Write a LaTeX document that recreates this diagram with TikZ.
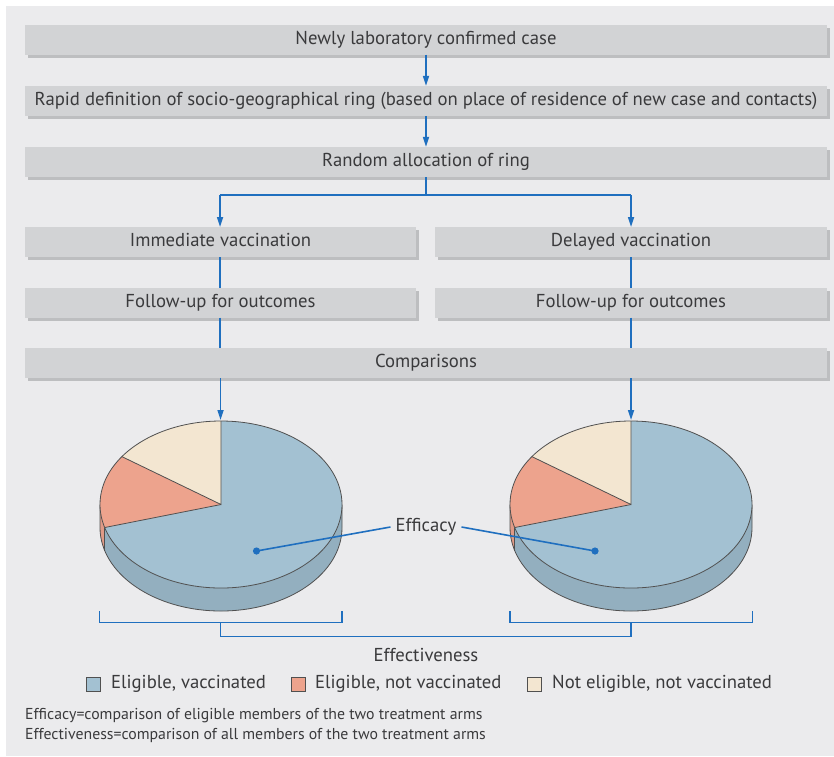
\documentclass[tikz,border=0pt]{standalone}
\usepackage{fontspec}
\setmainfont{PT Sans}
\usetikzlibrary{arrows.meta,calc,shadows}
\definecolor{panel}{HTML}{EBEBED}
\definecolor{boxc}{HTML}{D2D3D5}
\definecolor{shad}{HTML}{BDBEC0}
\definecolor{arr}{HTML}{1F6FBF}
\definecolor{txt}{HTML}{3A3A3C}
\definecolor{pblue}{HTML}{A3C1D2}
\definecolor{pblueside}{HTML}{93AFBF}
\definecolor{psalmon}{HTML}{EDA38D}
\definecolor{psalmonside}{HTML}{E09A86}
\definecolor{pbeige}{HTML}{F3E6D1}
\definecolor{pline}{HTML}{505050}
\tikzset{
  flowbox/.style={fill=boxc, inner sep=0pt, text=txt, font=\fontsize{18.7}{22}\selectfont,
    text height=13.5pt, text depth=4pt,
    drop shadow={shadow xshift=3pt, shadow yshift=-3pt, fill=shad, opacity=1}},
  conn/.style={draw=arr, line width=1.6pt},
  arrowc/.style={conn, -{Triangle[width=6pt,length=10pt]}},
  lab/.style={text=txt, inner sep=1pt, font=\fontsize{18.7}{22}\selectfont},
  foot/.style={text=txt, inner sep=0pt, anchor=west, font=\fontsize{15.8}{18}\selectfont},
  legsq/.style={draw=pline, line width=0.6pt, minimum size=14pt, inner sep=0pt},
  pedge/.style={draw=pline, line width=0.8pt},
}
\begin{document}
\begin{tikzpicture}[x=1pt,y=-1pt]
\useasboundingbox (0,0) rectangle (834,756);
\fill[white] (0,0) rectangle (834,756);
\fill[panel] (6,6) rectangle (834,756);

% boxes
\node[flowbox, minimum width=802pt, minimum height=30pt] (b1) at (426,39.5) {Newly laboratory confirmed case};
\node[flowbox, minimum width=802pt, minimum height=30pt] (b2) at (426,101) {Rapid definition of socio-geographical ring (based on place of residence of new case and contacts)};
\node[flowbox, minimum width=802pt, minimum height=30pt] (b3) at (426,162) {Random allocation of ring};
\node[flowbox, minimum width=391pt, minimum height=30pt] (iv) at (220.5,242) {Immediate vaccination};
\node[flowbox, minimum width=392pt, minimum height=30pt] (dv) at (631,242) {Delayed vaccination};
\node[flowbox, minimum width=391pt, minimum height=30pt] (fl) at (220.5,302.5) {Follow-up for outcomes};
\node[flowbox, minimum width=392pt, minimum height=30pt] (fr) at (631,302.5) {Follow-up for outcomes};
\node[flowbox, minimum width=802pt, minimum height=30pt] (cmp) at (426,363) {Comparisons};

% connectors
\draw[arrowc] (b1.south) -- (b2.north);
\draw[arrowc] (b2.south) -- (b3.north);
\coordinate (split) at (426,195);
\coordinate (sl) at (220,195);
\coordinate (sr) at (631,195);
\draw[conn] (b3.south) -- (split);
\draw[conn] (sl) -- (sr);
\draw[arrowc] (sl) -- (220,227);
\draw[arrowc] (sr) -- (631,227);
\draw[conn] (220,257) -- (220,287.5);
\draw[conn] (631,257) -- (631,287.5);
\draw[conn] (220,317.5) -- (220,348);
\draw[conn] (631,317.5) -- (631,348);
\coordinate (ptl) at (220.5,420);
\coordinate (ptr) at (631,420);
\draw[arrowc] (220.5,378) -- (ptl);
\draw[arrowc] (631,378) -- (ptr);

% pies (math orientation inside scope)
\foreach \cx in {221,631}{
  \begin{scope}[shift={(\cx,504.5)}, yscale=-1]
    \fill[pblueside] (-121,0) arc[start angle=180,end angle=360,x radius=121,y radius=83.5]
      -- (121,-23) arc[start angle=0,end angle=-180,x radius=121,y radius=83.5] -- cycle;
    \fill[psalmonside] (-121,0) arc[start angle=180,end angle=196,x radius=121,y radius=83.5]
      -- ++(0,-23) arc[start angle=196,end angle=180,x radius=121,y radius=83.5] -- cycle;
    \draw[pedge] (-121,0) -- (-121,-23)
      arc[start angle=180,end angle=360,x radius=121,y radius=83.5] -- (121,0);
    \draw[pedge] ({121*cos(196)},{83.5*sin(196)}) -- ++(0,-23);
    \fill[pblue] (0,0) -- (0,83.5) arc[start angle=90,end angle=-164,x radius=121,y radius=83.5] -- cycle;
    \fill[pbeige] (0,0) -- (0,83.5) arc[start angle=90,end angle=145,x radius=121,y radius=83.5] -- cycle;
    \fill[psalmon] (0,0) -- ({121*cos(145)},{83.5*sin(145)}) arc[start angle=145,end angle=196,x radius=121,y radius=83.5] -- cycle;
    \draw[pedge] (0,0) ellipse[x radius=121,y radius=83.5];
    \draw[pedge] (0,83.5) -- (0,0) -- ({121*cos(145)},{83.5*sin(145)});
    \draw[pedge] (0,0) -- ({121*cos(196)},{83.5*sin(196)});
  \end{scope}
}

% efficacy
\node[lab] (eff) at (426,527) {Efficacy};
\coordinate (dotL) at (256.5,551);
\coordinate (dotR) at (595,551);
\fill[arr] (dotL) circle (3.6pt);
\fill[arr] (dotR) circle (3.6pt);
\draw[conn] (dotL) -- ([xshift=-4pt]eff.west);
\draw[conn] ([xshift=4pt]eff.east) -- (dotR);

% brackets
\draw[conn] (99.5,611) -- (99.5,622.5) -- (342,622.5) -- (342,611);
\draw[conn] (510,611) -- (510,622.5) -- (752.5,622.5) -- (752.5,611);
\draw[conn] (220.5,622.5) -- (220.5,636.5) -- (631,636.5) -- (631,622.5);
\node[lab] (effv) at (426,655) {Effectiveness};

% legend
\node[legsq, fill=pblue] (lg1) at (93.5,684) {};
\node[lab, anchor=west] (lt1) at (110,684) {Eligible, vaccinated};
\node[legsq, fill=psalmon] (lg2) at (298,684) {};
\node[lab, anchor=west] (lt2) at (314,684) {Eligible, not vaccinated};
\node[legsq, fill=pbeige] (lg3) at (534.5,684) {};
\node[lab, anchor=west] (lt3) at (551,684) {Not eligible, not vaccinated};

% footnotes
\node[foot] (f1) at (25,716) {Efficacy=comparison of eligible members of the two treatment arms};
\node[foot] (f2) at (25,735) {Effectiveness=comparison of all members of the two treatment arms};
\end{tikzpicture}
\end{document}
